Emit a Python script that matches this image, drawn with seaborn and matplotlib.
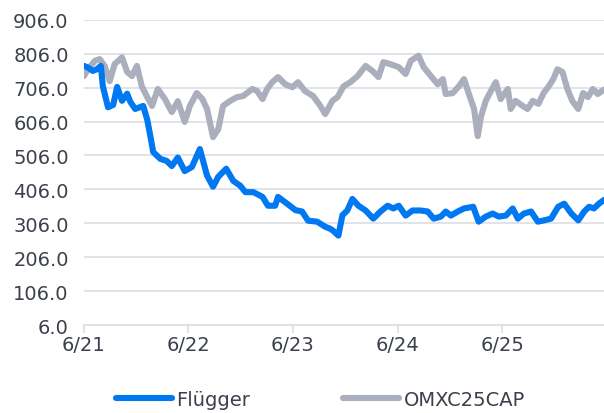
import pandas as pd
import numpy as np
import matplotlib
matplotlib.use('Agg')
import matplotlib.pyplot as plt
import seaborn as sns

# Flügger
flugger_dates = [
    '2021-06-01', '2021-06-15', '2021-07-02', '2021-07-16', '2021-07-30', '2021-08-06',
    '2021-08-24', '2021-09-11', '2021-09-25', '2021-10-12', '2021-10-30', '2021-11-10',
    '2021-11-27', '2021-12-25', '2022-01-08', '2022-01-19', '2022-01-29', '2022-02-23',
    '2022-03-17', '2022-04-04', '2022-04-25', '2022-05-19', '2022-06-13', '2022-07-11',
    '2022-08-05', '2022-08-26', '2022-09-13', '2022-10-11', '2022-11-05', '2022-11-29',
    '2022-12-17', '2023-01-14', '2023-02-15', '2023-03-06', '2023-03-31', '2023-04-10',
    '2023-05-12', '2023-06-10', '2023-07-03', '2023-07-24', '2023-08-25', '2023-09-22',
    '2023-10-10', '2023-10-20', '2023-11-07', '2023-11-21', '2023-12-08', '2023-12-26',
    '2024-01-16', '2024-02-10', '2024-03-08', '2024-04-02', '2024-04-27', '2024-05-17',
    '2024-06-05', '2024-06-29', '2024-07-23', '2024-08-20', '2024-09-14', '2024-10-05',
    '2024-10-30', '2024-11-16', '2024-12-04', '2024-12-28', '2025-01-19', '2025-02-20',
    '2025-03-11', '2025-04-05', '2025-04-29', '2025-05-20', '2025-06-14', '2025-07-08',
    '2025-07-26', '2025-08-16', '2025-09-10', '2025-10-04', '2025-10-26', '2025-11-19',
    '2025-12-14', '2026-01-04', '2026-01-29', '2026-02-22', '2026-03-15', '2026-04-01',
    '2026-04-18', '2026-05-05', '2026-05-23',
]
flugger_values = [
    770, 765, 755, 760, 770, 710,
    648, 655, 708, 667, 688, 664,
    643, 652, 612, 563, 516, 496,
    490, 475, 500, 460, 472, 525,
    447, 414, 443, 467, 431, 417,
    398, 398, 384, 358, 358, 384,
    364, 345, 341, 314, 311, 296,
    290, 284, 270, 330, 344, 378,
    358, 344, 320, 341, 358, 350,
    358, 329, 344, 344, 341, 320,
    326, 341, 329, 341, 350, 355,
    311, 326, 335, 326, 329, 350,
    320, 335, 341, 311, 315, 320,
    355, 364, 335, 315, 341, 355,
    350, 364, 375,
]

# OMXC25CAP
omx_dates = [
    '2021-06-01', '2021-06-15', '2021-07-09', '2021-07-26', '2021-08-12', '2021-08-30',
    '2021-09-16', '2021-10-12', '2021-10-30', '2021-11-16', '2021-12-03', '2021-12-20',
    '2022-01-08', '2022-01-25', '2022-02-14', '2022-03-11', '2022-04-04', '2022-04-25',
    '2022-05-19', '2022-06-06', '2022-06-30', '2022-07-20', '2022-08-05', '2022-08-26',
    '2022-09-13', '2022-09-30', '2022-10-25', '2022-11-18', '2022-12-09', '2023-01-10',
    '2023-01-27', '2023-02-15', '2023-03-03', '2023-03-21', '2023-04-10', '2023-05-05',
    '2023-05-30', '2023-06-19', '2023-07-13', '2023-08-11', '2023-09-05', '2023-09-22',
    '2023-10-17', '2023-11-04', '2023-11-25', '2023-12-19', '2024-01-13', '2024-02-10',
    '2024-03-05', '2024-03-26', '2024-04-12', '2024-05-07', '2024-06-05', '2024-06-29',
    '2024-07-17', '2024-08-13', '2024-08-31', '2024-09-25', '2024-10-19', '2024-11-06',
    '2024-11-16', '2024-12-11', '2025-01-01', '2025-01-19', '2025-02-05', '2025-02-23',
    '2025-03-08', '2025-03-19', '2025-04-05', '2025-04-23', '2025-05-10', '2025-05-27',
    '2025-06-21', '2025-07-01', '2025-07-18', '2025-08-12', '2025-08-29', '2025-09-16',
    '2025-10-06', '2025-10-24', '2025-11-11', '2025-11-27', '2025-12-11', '2025-12-29',
    '2026-01-15', '2026-02-01', '2026-02-22', '2026-03-11', '2026-03-28', '2026-04-14',
    '2026-05-01', '2026-05-23',
]
omx_values = [
    740, 760, 785, 790, 770, 725,
    775, 795, 752, 740, 770, 710,
    678, 652, 702, 672, 634, 666,
    605, 652, 690, 672, 643, 560,
    583, 652, 667, 678, 681, 702,
    696, 672, 702, 722, 737, 716,
    707, 722, 696, 681, 652, 628,
    667, 678, 710, 722, 740, 770,
    755, 737, 781, 775, 766, 746,
    785, 800, 766, 740, 716, 731,
    687, 690, 710, 731, 687, 643,
    563, 620, 667, 696, 722, 672,
    702, 643, 667, 652, 643, 667,
    658, 690, 710, 731, 760, 752,
    702, 667, 643, 690, 678, 702,
    687, 700,
]

tick_dates = ['2021-06-01', '2022-06-01', '2023-06-01', '2024-06-01', '2025-06-01']
tick_labels = ['6/21', '6/22', '6/23', '6/24', '6/25']
y_ticks = [6.0, 106.0, 206.0, 306.0, 406.0, 506.0, 606.0, 706.0, 806.0, 906.0]

series_names = ['Flügger', 'OMXC25CAP']
colors = ['#0078f2', '#aaaebd']

df = pd.concat([
    pd.DataFrame({'dato': pd.to_datetime(flugger_dates), 'værdi': flugger_values, 'serie': series_names[0]}),
    pd.DataFrame({'dato': pd.to_datetime(omx_dates), 'værdi': omx_values, 'serie': series_names[1]}),
])

sns.set_theme(style='white')
plt.rcParams['font.family'] = ['DejaVu Sans']

fig = plt.figure(figsize=(6.04, 4.14), dpi=100)
ax = fig.add_axes([0.139, 0.212, 0.861, 0.738])

sns.lineplot(data=df, x='dato', y='værdi', hue='serie', hue_order=series_names[::-1],
             palette=dict(zip(series_names, colors)), linewidth=4.4, ax=ax, legend=False)

ax.set_ylim(6, 906)
ax.set_xlim(pd.Timestamp('2021-06-01'), pd.Timestamp('2026-05-23'))
ax.set_yticks(y_ticks)
ax.set_yticklabels([f'{v:.1f}' for v in y_ticks])
ax.set_xticks(pd.to_datetime(tick_dates))
ax.set_xticklabels(tick_labels)
ax.set_xlabel('')
ax.set_ylabel('')

ax.grid(axis='y', color='#dddde5', linewidth=1.2)
ax.grid(axis='x', visible=False)
for s in ['top', 'right', 'left']:
    ax.spines[s].set_visible(False)
ax.spines['bottom'].set_color('#dddde5')
ax.spines['bottom'].set_linewidth(1.2)

ax.tick_params(axis='y', length=0, pad=11, labelsize=14, labelcolor='#3b404b')
ax.tick_params(axis='x', length=6, width=1.2, color='#dddde5', pad=1, labelsize=14,
               labelcolor='#3b404b', bottom=True)

handles = [plt.Line2D([], [], color=c, linewidth=4.4, solid_capstyle='round') for c in colors]
fig.legend(handles, series_names, loc='lower center', bbox_to_anchor=(0.53, -0.032), ncol=2,
           frameon=False, fontsize=14, handlelength=2.9, handletextpad=0.2, columnspacing=4.8,
           labelcolor='#3b404b')

fig.savefig('out.png', dpi=100)
